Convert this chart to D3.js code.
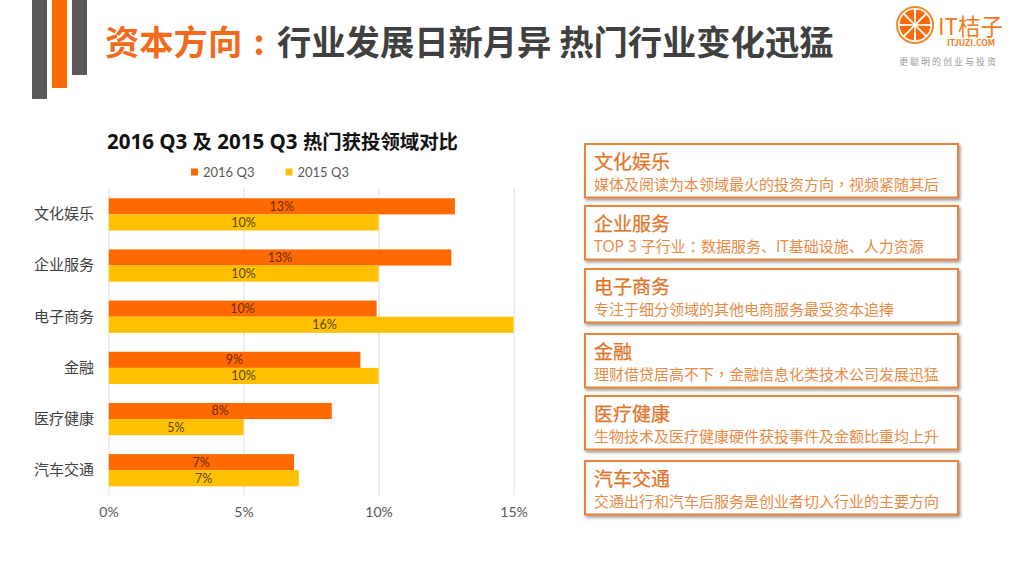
<!DOCTYPE html>
<html>
<head>
<meta charset="utf-8">
<script src="https://cdn.jsdelivr.net/npm/d3@7"></script>
<style>
  html, body { margin: 0; padding: 0; background: #fff; }
  svg { display: block; }
  text { font-family: "Noto Sans CJK SC", "Noto Sans", sans-serif; }
  .latin { font-family: "Open Sans", sans-serif; }
  .num { font-family: Lato, "Noto Sans", sans-serif; }
  .tcp { font-family: "Noto Sans CJK TC", sans-serif; }
</style>
</head>
<body>
<div id="chart"></div>
<script>
// podaci s grafikona
const categories = ["文化娱乐", "企业服务", "电子商务", "金融", "医疗健康", "汽车交通"];
const seriesNames = ["2016 Q3", "2015 Q3"];
const values2016 = [12.83, 12.7, 9.93, 9.33, 8.27, 6.87];
const values2015 = [10, 10, 16, 10, 5, 7.05];
const xTicks = [0, 5, 10, 15];
const boxTitles = ["文化娱乐", "企业服务", "电子商务", "金融", "医疗健康", "汽车交通"];
const boxTexts = [
  "媒体及阅读为本领域最火的投资方向，视频紧随其后",
  "TOP 3 子行业：数据服务、IT基础设施、人力资源",
  "专注于细分领域的其他电商服务最受资本追捧",
  "理财借贷居高不下，金融信息化类技术公司发展迅猛",
  "生物技术及医疗健康硬件获投事件及金额比重均上升",
  "交通出行和汽车后服务是创业者切入行业的主要方向"
];

const orange = "#ff6a00", yellow = "#ffc000", grey = "#595959";

const svg = d3.select("#chart").append("svg").attr("width", 1024).attr("height", 576);
const defs = svg.append("defs");
const shadow = defs.append("filter").attr("id", "shadow")
  .attr("x", "-5%").attr("y", "-10%").attr("width", "110%").attr("height", "125%");
shadow.append("feDropShadow").attr("dx", 1.5).attr("dy", 2).attr("stdDeviation", 1.5)
  .attr("flood-color", "#000").attr("flood-opacity", 0.4);

// traka gore lijevo
[[32, 99, grey], [52, 88, orange], [72, 75, grey]].forEach(d => {
  svg.append("rect").attr("x", d[0]).attr("y", 0).attr("width", 15).attr("height", d[1]).attr("fill", d[2]);
});

// naslov
const titleRow = [
  { s: "资本方向", x: 105, c: "#f26b1d", a: "start" },
  { s: ":", x: 259, c: "#f26b1d", a: "middle" },
  { s: "行业发展日新月异 热门行业变化迅猛", x: 277, c: "#404040", a: "start" }
];
svg.selectAll(".slide-title").data(titleRow).enter().append("text")
  .attr("class", "slide-title")
  .attr("x", d => d.x).attr("y", 54.5)
  .attr("text-anchor", d => d.a)
  .attr("fill", d => d.c)
  .attr("font-size", 34.3).attr("font-weight", 700)
  .text(d => d.s);

// logo
const logo = svg.append("g").attr("transform", "translate(915,25)");
logo.append("circle").attr("r", 18).attr("fill", "#fff").attr("stroke", "#f58a2c").attr("stroke-width", 2);
const wedges = d3.pie().value(1).padAngle(0.14)(d3.range(8));
logo.selectAll(".wedge").data(wedges).enter().append("path")
  .attr("class", "wedge")
  .attr("d", d3.arc().innerRadius(2).outerRadius(15.5))
  .attr("fill", "#fb6a0a");
svg.append("text").attr("x", 938).attr("y", 35).attr("font-size", 22.5).attr("fill", "#f27a1a").text("IT桔子");
svg.append("text").attr("x", 947).attr("y", 45.5).attr("font-size", 8.5).attr("font-weight", 700)
  .attr("fill", "#f27a1a").text("ITJUZI.COM");
svg.append("text").attr("x", 899).attr("y", 64.5).attr("font-size", 9).attr("letter-spacing", 2)
  .attr("fill", "#999").text("更聪明的创业与投资");

// naslov grafikona
const chartTitle = svg.append("text").attr("x", 107).attr("y", 149).attr("font-size", 19.4)
  .attr("font-weight", 700).attr("fill", "#111");
chartTitle.selectAll("tspan")
  .data("2016 Q3 及 2015 Q3 热门获投领域对比".split(/([0-9Q ]+)/).filter(d => d))
  .enter().append("tspan")
  .attr("class", d => /[0-9Q]/.test(d) ? "latin" : null)
  .attr("font-size", d => /[0-9Q]/.test(d) ? 20.5 : null)
  .text(d => d);

// legenda
const legend = svg.selectAll(".legend").data(seriesNames).enter().append("g")
  .attr("class", "legend")
  .attr("transform", (d, i) => "translate(" + (191 + i * 94.5) + ",172)");
legend.append("rect").attr("x", 0).attr("y", -3.5).attr("width", 7).attr("height", 7)
  .attr("fill", (d, i) => i === 0 ? orange : yellow);
legend.append("text").attr("class", "num").attr("x", 12).attr("y", 4.5).attr("font-size", 13).attr("fill", grey).text(d => d);

// skale
const plot = { left: 108.5, right: 513.5, top: 188, bottom: 495 };
const xScale = d3.scaleLinear().domain([0, 15]).range([plot.left, plot.right]);
const yScale = d3.scaleBand().domain(categories).range([plot.top + 0.8, plot.bottom + 0.8])
  .paddingInner(0.37).paddingOuter(0.185);
const subScale = d3.scaleBand().domain(seriesNames).range([0, yScale.bandwidth()]);

// os x i mreža
const xAxis = svg.append("g")
  .attr("transform", "translate(0," + plot.bottom + ")")
  .call(d3.axisBottom(xScale).tickValues(xTicks).tickFormat(d => d + "%")
    .tickSize(-(plot.bottom - plot.top)).tickPadding(12));
xAxis.select(".domain").remove();
xAxis.selectAll("line").attr("stroke", "#dcdcdc");
xAxis.selectAll("text").attr("class", "num").attr("font-size", 14).attr("fill", grey);

// os y
const yAxis = svg.append("g")
  .attr("transform", "translate(" + plot.left + ",0)")
  .call(d3.axisLeft(yScale).tickSize(0).tickPadding(14.5));
yAxis.select(".domain").remove();
yAxis.selectAll("text").attr("font-size", 15).attr("fill", "#404040");

// barovi (16% je odrezan na kraju osi, kao na slici)
defs.append("clipPath").attr("id", "plot-clip").append("rect")
  .attr("x", plot.left).attr("y", plot.top)
  .attr("width", plot.right - plot.left).attr("height", plot.bottom - plot.top);

const series = [
  { name: seriesNames[0], values: values2016, color: orange, text: "#6e2c00", size: 12.5 },
  { name: seriesNames[1], values: values2015, color: yellow, text: "#5c4500", size: 12.5 }
];
series.forEach(s => {
  const rows = categories.map((c, i) => ({ c: c, v: s.values[i] }));
  svg.append("g").attr("clip-path", "url(#plot-clip)")
    .selectAll("rect").data(rows).enter().append("rect")
    .attr("x", xScale(0))
    .attr("y", d => yScale(d.c) + subScale(s.name))
    .attr("width", d => xScale(d.v) - xScale(0))
    .attr("height", subScale.bandwidth())
    .attr("fill", s.color);
  svg.append("g").selectAll("text").data(rows).enter().append("text")
    .attr("class", "num")
    .attr("x", d => xScale(d.v / 2))
    .attr("y", d => yScale(d.c) + subScale(s.name) + subScale.bandwidth() / 2 + 4.5)
    .attr("text-anchor", "middle")
    .attr("font-size", s.size)
    .attr("fill", s.text)
    .text(d => Math.round(d.v) + "%");
});

// kutije desno
const boxTops = [144, 206, 269, 334, 396, 461];
const boxes = svg.selectAll(".box").data(boxTitles).enter().append("g")
  .attr("class", "box")
  .attr("transform", (d, i) => "translate(585," + boxTops[i] + ")");
boxes.append("rect").attr("width", 373).attr("height", 53.5)
  .attr("fill", "#fff").attr("stroke", "#e8833a").attr("stroke-width", 2)
  .attr("filter", "url(#shadow)");
boxes.append("text").attr("x", 9).attr("y", 25).attr("font-size", 19)
  .attr("fill", "#e0752a").attr("stroke", "#e0752a").attr("stroke-width", 0.25).text(d => d);
const boxLines = boxes.append("text").attr("x", 9).attr("y", 46).attr("font-size", 15).attr("fill", "#e98a45");
// zarez i dvotočka su u originalu centrirani, zato TC font
boxLines.selectAll("tspan")
  .data((d, i) => boxTexts[i].split(/([，：]|[A-Z0-9 ]+)/).filter(p => p))
  .enter().append("tspan")
  .attr("class", d => /[，：]/.test(d) ? "tcp" : /[A-Z0-9]/.test(d) ? "latin" : null)
  .attr("font-size", d => /[A-Z0-9]/.test(d) ? 15.5 : null)
  .text(d => d);
</script>
</body>
</html>
